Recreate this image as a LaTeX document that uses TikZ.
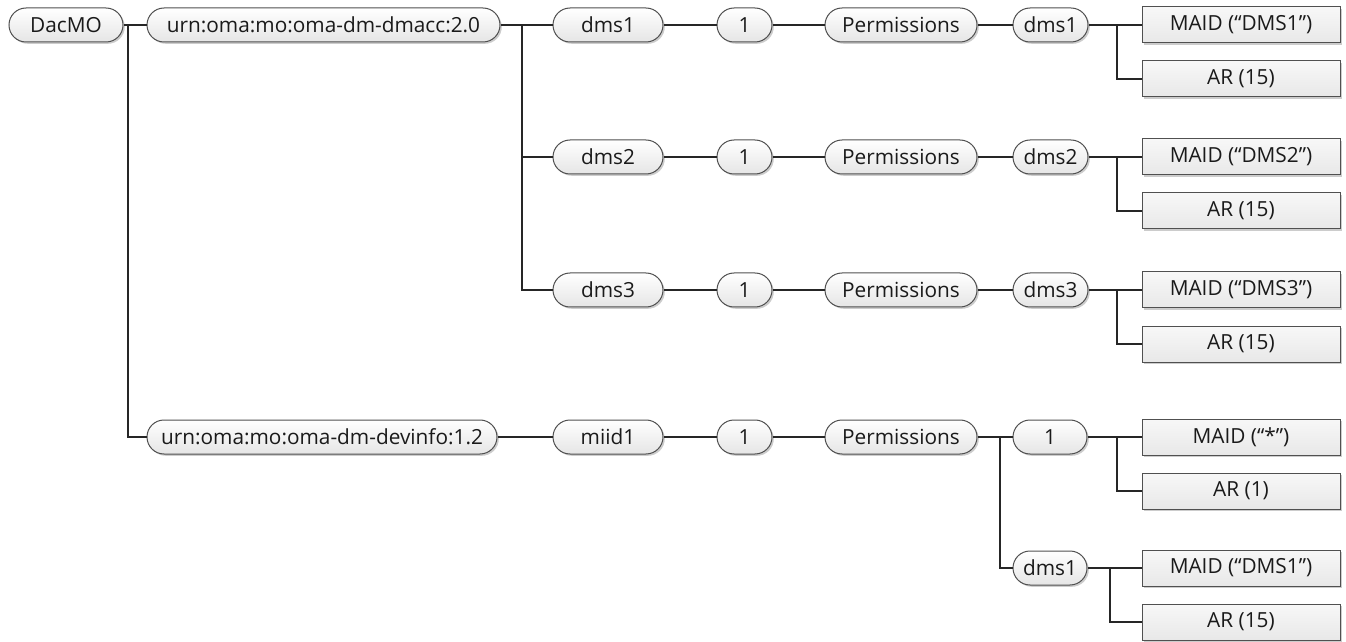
\documentclass[tikz,border=0pt]{standalone}
\usepackage{fontspec}
\setmainfont{Open Sans}
\usetikzlibrary{shapes.misc,shadows}
\definecolor{edgec}{HTML}{505050}
\definecolor{txtc}{HTML}{1A1A1A}
\tikzset{
  base/.style={draw=edgec, line width=0.5pt, text=txtc, font=\fontsize{10.4}{12}\selectfont, inner sep=0pt,
    top color=white, bottom color=black!10,
    drop shadow={shadow xshift=0.9pt, shadow yshift=-0.9pt, fill=black, opacity=0.2}},
  pill/.style={base, rounded rectangle, minimum height=17pt},
  leaf/.style={base, rectangle, minimum height=18pt, minimum width=99pt, top color=black!3, bottom color=black!9},
  conn/.style={draw=black!85, line width=0.55pt},
}
\begin{document}
\begin{tikzpicture}[x=0.5pt, y=-0.5pt]
\useasboundingbox (0,0) rectangle (1346,642);
% column 0/1
\node[pill, minimum width=57pt] (dacmo) at (66,25) {DacMO};
\node[pill, minimum width=176.5pt] (urnA) at (323.5,25) {urn:oma:mo:oma-dm-dmacc:2.0};
\node[pill, minimum width=175pt] (urnB) at (322,437) {urn:oma:mo:oma-dm-devinfo:1.2};
\coordinate (j0) at (128,25);
% rows
\foreach \r/\y/\nm in {1/25/dms1, 2/157/dms2, 3/290/dms3} {
  \node[pill, minimum width=55pt] (a\r) at (608,\y) {\nm};
  \node[pill, minimum width=27.5pt] (o\r) at (744.5,\y) {1};
  \node[pill, minimum width=76pt] (p\r) at (901,\y) {Permissions};
  \node[pill, minimum width=37.5pt] (b\r) at (1050.5,\y) {\nm};
}
\node[leaf] (m1) at (1241,25) {MAID (“DMS1”)};
\node[leaf] (r1) at (1241,79) {AR (15)};
\node[leaf] (m2) at (1241,157) {MAID (“DMS2”)};
\node[leaf] (r2) at (1241,211) {AR (15)};
\node[leaf] (m3) at (1241,290) {MAID (“DMS3”)};
\node[leaf] (r3) at (1241,344) {AR (15)};
% row 4
\node[pill, minimum width=55pt] (a4) at (608,437) {miid1};
\node[pill, minimum width=27.5pt] (o4) at (744.5,437) {1};
\node[pill, minimum width=76pt] (p4) at (901,437) {Permissions};
\node[pill, minimum width=37pt] (b4) at (1050,437) {1};
\node[pill, minimum width=37pt] (c4) at (1050,568) {dms1};
\node[leaf] (m4) at (1241,437) {MAID (“*”)};
\node[leaf] (r4) at (1241,491) {AR (1)};
\node[leaf] (m5) at (1241,568) {MAID (“DMS1”)};
\node[leaf] (r5) at (1241,622) {AR (15)};
\coordinate (j1) at (522,25);
\coordinate (j4) at (1000,437);
\coordinate (k1) at (1117,25);
\coordinate (k2) at (1117,157);
\coordinate (k3) at (1117,290);
\coordinate (k4) at (1117,437);
\coordinate (k5) at (1110,568);
% connectors
\draw[conn] (dacmo.east) -- (urnA.west);
\draw[conn] (j0) |- (urnB.west);
\draw[conn] (urnA.east) -- (a1.west);
\draw[conn] (j1) |- (a2.west);
\draw[conn] (j1) |- (a3.west);
\foreach \r in {1,2,3} {
  \draw[conn] (a\r.east) -- (o\r.west);
  \draw[conn] (o\r.east) -- (p\r.west);
  \draw[conn] (p\r.east) -- (b\r.west);
  \draw[conn] (b\r.east) -- (m\r.west);
  \draw[conn] (k\r) |- (r\r.west);
}
\draw[conn] (urnB.east) -- (a4.west);
\draw[conn] (a4.east) -- (o4.west);
\draw[conn] (o4.east) -- (p4.west);
\draw[conn] (p4.east) -- (b4.west);
\draw[conn] (j4) |- (c4.west);
\draw[conn] (b4.east) -- (m4.west);
\draw[conn] (k4) |- (r4.west);
\draw[conn] (c4.east) -- (m5.west);
\draw[conn] (k5) |- (r5.west);
\end{tikzpicture}
\end{document}
